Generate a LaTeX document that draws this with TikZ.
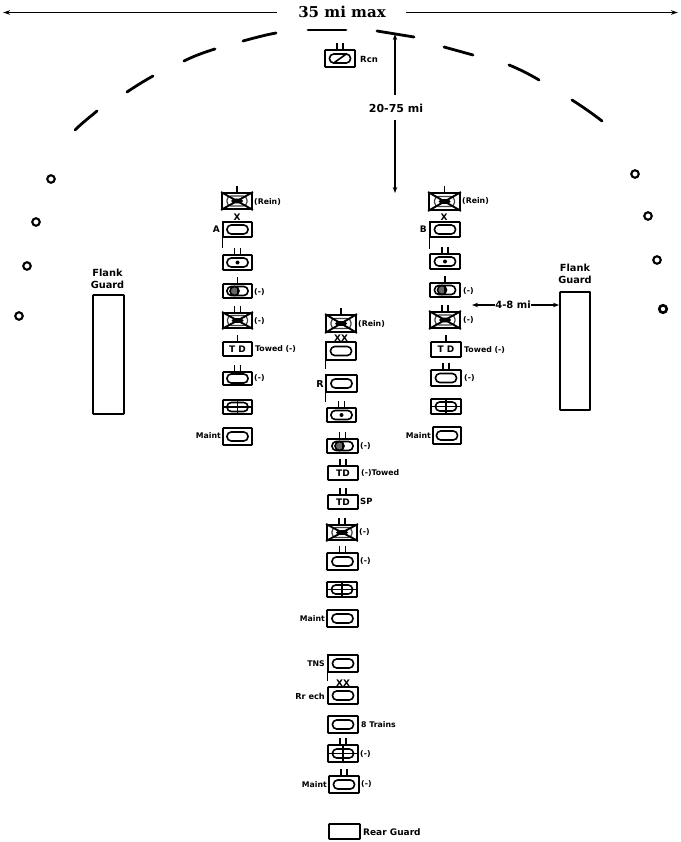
\documentclass[tikz,border=0pt]{standalone}
\usepackage{fontspec}
\setmainfont{DejaVu Sans}
\newfontfamily\headfont{DejaVu Serif}
\usetikzlibrary{arrows.meta,calc}
\tikzset{
  x=1pt,y=-1pt,
  ubox/.style={draw,line width=1.9pt,rounded corners=0.8pt,inner sep=0pt,fill=white,font=\fontsize{9}{10}\selectfont\bfseries},
  sym/.style={line width=1.6pt},
  lab/.style={inner sep=0pt,font=\fontsize{7.8}{9}\selectfont\bfseries},
  ltr/.style={inner sep=0pt,font=\fontsize{9}{10}\selectfont\bfseries},
  flank/.style={draw,line width=1.9pt,rounded corners=0.6pt,inner sep=0pt},
  dashseg/.style={line width=2.8pt,line cap=round},
  dim/.style={line width=1.3pt,{Stealth[length=6pt,width=4.5pt]}-{Stealth[length=6pt,width=4.5pt]}},
  dot/.style={draw,circle,line width=2.1pt,minimum size=7.5pt,inner sep=0pt},
  bigtxt/.style={inner sep=0pt,font=\fontsize{9.8}{11.5}\selectfont\bfseries}
}
\newcommand\ov[1]{\draw[sym,rounded corners=4.2pt] ($(#1.center)+(-10.5,-4.5)$) rectangle ($(#1.center)+(10.5,4.5)$);}
\newcommand\ovdot[1]{\ov{#1}\fill ($(#1.center)$) circle (2pt);}
\newcommand\ovlobe[1]{\ov{#1}\fill[black!60] ($(#1.center)+(-3,0)$) circle (4pt);\draw[sym] ($(#1.center)+(0,-4.5)$) -- ($(#1.center)+(0,4.5)$);\draw[sym] ($(#1.center)+(-3,0)$) circle (4.5pt);}
\newcommand\ovx[1]{\draw[line width=1.2pt,black!75,rounded corners=4pt] ($(#1.center)+(-10,-5)$) rectangle ($(#1.center)+(10,5)$);
  \draw[line width=1.9pt] (#1.north west) -- (#1.south east) (#1.north east) -- (#1.south west);
  \fill ($(#1.center)$) ellipse (6pt and 2.5pt);}
\newcommand\ovslash[1]{\ov{#1}\draw[sym] ($(#1.center)+(-7,5)$) -- ($(#1.center)+(7,-5)$);}
\newcommand\ovcross[1]{\ov{#1}\draw[sym] (#1.west) -- (#1.east) (#1.north) -- (#1.south);}
\newcommand\tickone[1]{\draw[line width=1.1pt] (#1.north) -- ++(0,-6);}
\newcommand\ticktwo[1]{\draw[line width=1.1pt] ($(#1.north)+(-3,0)$) -- ++(0,-6) ($(#1.north)+(3,0)$) -- ++(0,-6);}
\newcommand\staff[2]{\draw[line width=1.1pt] (#1.north west) -- ++(0,#2);}
\newcommand\ub[6]{\node[ubox,minimum width=#4-#2,minimum height=#5-#3] (#1) at ({(#2+#4)/2},{(#3+#5)/2}) {#6};}
\begin{document}
\begin{tikzpicture}
\useasboundingbox (0,0) rectangle (680,842);
% top dimension
\node[inner sep=0pt,font=\fontsize{15}{17}\selectfont\headfont\bfseries] (title) at (342,11.5) {35 mi max};
\coordinate (tl) at (3,12.5);
\coordinate (tr) at (678,12.5);
\draw[line width=1.2pt,{Stealth[length=7pt,width=4.5pt]}-] (tl) -- ($(title.west)+(-21,1)$);
\draw[line width=1.2pt,-{Stealth[length=7pt,width=4.5pt]}] ($(title.east)+(20,1)$) -- (tr);
% screen arc
\draw[dashseg] (75,130) .. controls (82,123) and (90,117) .. (97,111);
\draw[dashseg] (127,92) .. controls (136,86) and (144,81) .. (153,76);
\draw[dashseg] (184,61) .. controls (194,56) and (205,52) .. (215,49);
\draw[dashseg] (243,41) .. controls (254,38) and (265,35) .. (276,33);
\draw[dashseg] (308,30) -- (346,30);
\draw[dashseg] (377,31) -- (414,37);
\draw[dashseg] (444,47) -- (473,55);
\draw[dashseg] (509,65) .. controls (519,69) and (529,74) .. (539,80);
\draw[dashseg] (572,100) .. controls (583,107) and (593,114) .. (602,121);
% flank dots
\node[dot] (d1) at (51,179) {};
\node[dot] (d2) at (36,222) {};
\node[dot] (d3) at (27,266) {};
\node[dot] (d4) at (19,316) {};
\node[dot] (d5) at (635,174) {};
\node[dot] (d6) at (648,216) {};
\node[dot] (d7) at (657,260) {};
\node[dot,line width=2.6pt] (d8) at (663,309) {};
% flank guards
\node[flank,minimum width=31,minimum height=119] (fl) at (108.5,354.5) {};
\node[flank,minimum width=30,minimum height=118] (fr) at (575,351) {};
\node[bigtxt,align=center] (fltx) at (107.5,279) {Flank\\Guard};
\node[bigtxt,align=center] (frtx) at (575,274) {Flank\\Guard};
% recon
\ub{rcn}{325}{50}{355}{67}{}
\ovslash{rcn}\ticktwo{rcn}
\node[lab,font=\fontsize{8.5}{9}\selectfont\bfseries,anchor=west] (rcnl) at (360,59) {Rcn};
% 20-75
\coordinate (h1) at (395,34);
\coordinate (h2) at (395,193);
\draw[dim] (h1) -- (h2);
\node[fill=white,inner sep=0pt,minimum width=58,minimum height=25,font=\fontsize{11}{12}\selectfont\bfseries] (hl) at (396,108) {20-75 mi};
% left column
\ub{a1}{222}{193}{252}{209}{}\ovx{a1}\tickone{a1}
\node[lab,anchor=west] at (254,202) {(Rein)};
\ub{a2}{223}{222}{252}{237}{}\ov{a2}\staff{a2}{27}
\node[ltr] at (237,217) {X};
\node[ltr,anchor=east] at (220,229) {A};
\ub{a3}{223}{255}{252}{270}{}\ovdot{a3}\ticktwo{a3}
\ub{a4}{223}{284}{252}{298}{}\ovlobe{a4}\tickone{a4}
\node[lab,anchor=west] at (254,292) {(-)};
\ub{a5}{223}{313}{252}{328}{}\ovx{a5}\ticktwo{a5}
\node[lab,anchor=west] at (254,321) {(-)};
\ub{a6}{223}{342}{252}{356}{T D}\tickone{a6}
\node[lab,anchor=west] at (255,349) {Towed (-)};
\ub{a7}{223}{372}{252}{385}{}\ov{a7}\ticktwo{a7}
\node[lab,anchor=west] at (254,378) {(-)};
\ub{a8}{223}{400}{252}{414}{}\ovcross{a8}
\ub{a9}{223}{428}{252}{445}{}\ov{a9}
\node[lab,anchor=east] at (221,436) {Maint};
% right column
\ub{b1}{429}{193}{460}{210}{}\ovx{b1}\tickone{b1}
\node[lab,anchor=west] at (462,201) {(Rein)};
\ub{b2}{430}{222}{460}{237}{}\ov{b2}\staff{b2}{28}
\node[ltr] at (444,217) {X};
\node[ltr,anchor=east] at (427,229) {B};
\ub{b3}{430}{254}{460}{269}{}\ovdot{b3}\ticktwo{b3}
\ub{b4}{430}{283}{460}{297}{}\ovlobe{b4}\tickone{b4}
\node[lab,anchor=west] at (463,291) {(-)};
\ub{b5}{430}{312}{460}{328}{}\ovx{b5}\ticktwo{b5}
\node[lab,anchor=west] at (463,320) {(-)};
\ub{b6}{431}{342}{461}{357}{T D}\tickone{b6}
\node[lab,anchor=west] at (464,350) {Towed (-)};
\ub{b7}{431}{370}{461}{386}{}\ov{b7}\ticktwo{b7}
\node[lab,anchor=west] at (464,378) {(-)};
\ub{b8}{431}{399}{461}{414}{}\ovcross{b8}
\ub{b9}{433}{427}{461}{444}{}\ov{b9}
\node[lab,anchor=east] at (431,436) {Maint};
% 4-8
\coordinate (w1) at (472,305);
\node[bigtxt,font=\fontsize{10}{11}\selectfont\bfseries] (wl) at (513,305) {4-8 mi};
\draw[line width=1.2pt,{Stealth[length=6pt,width=4.5pt]}-] (w1) -- (wl.west);
\draw[line width=1.2pt,-{Stealth[length=6pt,width=4.5pt]}] (wl.east) -- (fr.west |- wl);
% centre column
\ub{c1}{326}{315}{356}{332}{}\ovx{c1}\tickone{c1}
\node[lab,anchor=west] at (358,324) {(Rein)};
\ub{c2}{326}{342}{356}{360}{}\ov{c2}\staff{c2}{28}
\node[ltr] at (341,338) {XX};
\ub{c3}{326}{375}{357}{392}{}\ov{c3}\staff{c3}{28}
\node[ltr,font=\fontsize{9.5}{10}\selectfont\bfseries,anchor=east] at (324,384) {R};
\ub{c4}{327}{408}{356}{422}{}\ovdot{c4}\ticktwo{c4}
\ub{c5}{327}{439}{358}{453}{}\ovlobe{c5}\ticktwo{c5}
\node[lab,anchor=west] at (360,446) {(-)};
\ub{c6}{328}{466}{358}{480}{TD}\ticktwo{c6}
\node[lab,anchor=west] at (361,473) {(-)Towed};
\ub{c7}{328}{495}{358}{509}{TD}\ticktwo{c7}
\node[lab,font=\fontsize{8.5}{9}\selectfont\bfseries,anchor=west] at (360,501) {SP};
\ub{c8}{327}{525}{357}{540}{}\ovx{c8}\ticktwo{c8}
\node[lab,anchor=west] at (359,532) {(-)};
\ub{c9}{327}{553}{358}{570}{}\ov{c9}\ticktwo{c9}
\node[lab,anchor=west] at (360,561) {(-)};
\ub{c10}{327}{582}{357}{597}{}\ovcross{c10}
\ub{c11}{327}{610}{358}{627}{}\ov{c11}
\node[lab,anchor=east] at (325,619) {Maint};
\ub{c12}{328}{655}{358}{672}{}\ov{c12}\staff{c12}{27}
\node[lab,anchor=east] at (325,664) {TNS};
\ub{c13}{328}{687}{358}{704}{}\ov{c13}
\node[ltr] at (343,683) {XX};
\node[lab,font=\fontsize{8.2}{9}\selectfont\bfseries,anchor=east] at (325,696) {Rr ech};
\ub{c14}{328}{716}{358}{733}{}\ov{c14}
\node[lab,anchor=west] at (361,725) {8 Trains};
\ub{c15}{328}{745}{358}{762}{}\ovcross{c15}\ticktwo{c15}
\node[lab,anchor=west] at (360,754) {(-)};
\ub{c16}{329}{776}{359}{793}{}\ov{c16}\ticktwo{c16}
\node[lab,anchor=east] at (327,785) {Maint};
\node[lab,anchor=west] at (361,784) {(-)};
\ub{c17}{329}{824}{360}{839}{}
\node[lab,font=\fontsize{9}{10}\selectfont\bfseries,anchor=west] at (363,832) {Rear Guard};
\end{tikzpicture}
\end{document}
